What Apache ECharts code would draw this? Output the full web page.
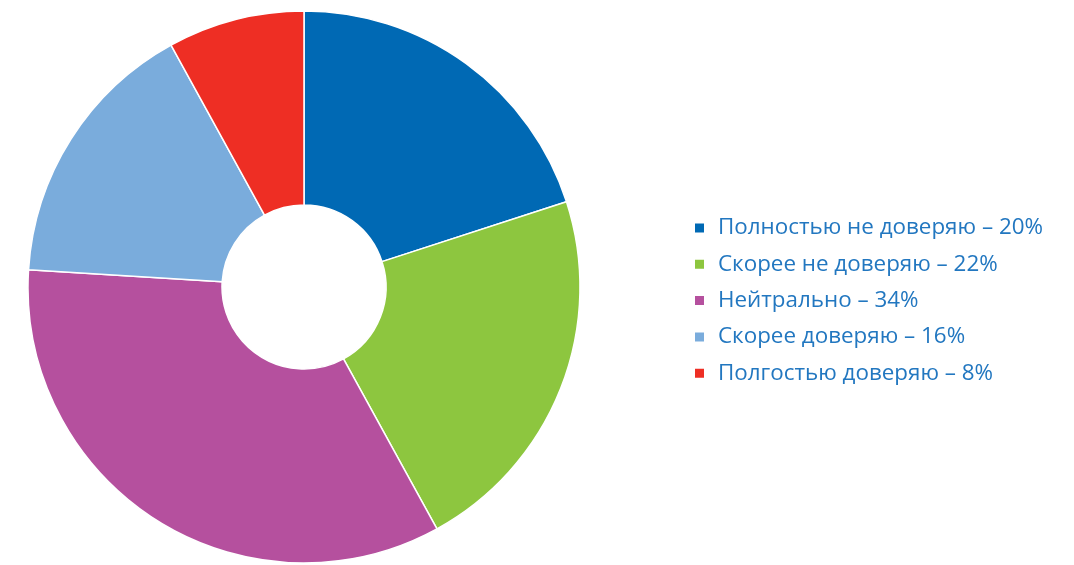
<!DOCTYPE html>
<html><head><meta charset="utf-8">
<script src="https://cdn.jsdelivr.net/npm/echarts@6/dist/echarts.min.js"></script>
<style>html,body{margin:0;padding:0;background:#fff}#c{width:1074px;height:565px}</style>
</head><body><div id="c"></div>
<script>
var categories = ['Полностью не доверяю', 'Скорее не доверяю', 'Нейтрально', 'Скорее доверяю', 'Полгостью доверяю'];
var values = [20, 22, 34, 16, 8];
var colors = ['#0069b4', '#8dc63f', '#b5509e', '#7aacdc', '#ee2e24'];

var chart = echarts.init(document.getElementById('c'), null, {renderer: 'canvas'});
chart.setOption({
  animation: false,
  color: colors,
  legend: {
    orient: 'vertical',
    left: 688,
    top: 210,
    itemWidth: 11,
    itemHeight: 11,
    itemGap: 10.3,
    icon: 'rect',
    formatter: function (name) {
      var i = categories.indexOf(name);
      return name + ' – ' + values[i] + '%';
    },
    textStyle: {
      fontFamily: 'Open Sans',
      fontSize: 22.4,
      lineHeight: 26,
      color: '#2277c0',
      padding: [0, 0, 0, 8]
    }
  },
  series: [{
    type: 'pie',
    center: [304, 287],
    radius: [82, 276],
    startAngle: 90,
    clockwise: true,
    label: {show: false},
    labelLine: {show: false},
    itemStyle: {borderColor: '#ffffff', borderWidth: 1.5},
    emphasis: {disabled: true},
    data: categories.map(function (c, i) { return {name: c, value: values[i]}; })
  }]
});
</script></body></html>
